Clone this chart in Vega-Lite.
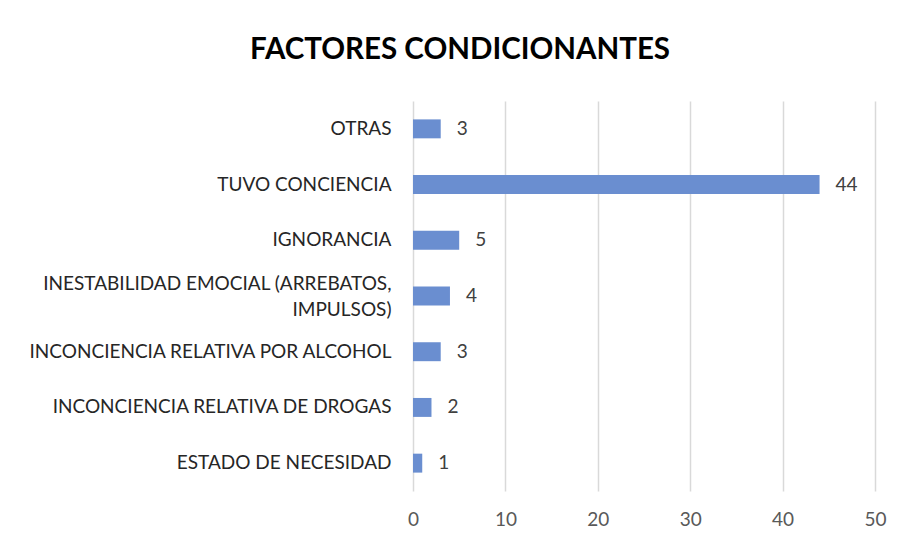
{
  "$schema": "https://vega.github.io/schema/vega-lite/v6.json",
  "autosize": {"type": "none"},
  "width": 462,
  "height": 390,
  "padding": {"left": 413, "top": 101, "right": 25, "bottom": 53},
  "background": "white",
  "title": {
    "text": "FACTORES CONDICIONANTES",
    "font": "Lato",
    "fontSize": 29.5,
    "fontWeight": "bold",
    "color": "#000000",
    "anchor": "middle",
    "dx": -184,
    "offset": 36
  },
  "data": {
    "values": [
      {"factor": "OTRAS", "valor": 3},
      {"factor": "TUVO CONCIENCIA", "valor": 44},
      {"factor": "IGNORANCIA", "valor": 5},
      {"factor": "INESTABILIDAD EMOCIAL (ARREBATOS, IMPULSOS)", "valor": 4},
      {"factor": "INCONCIENCIA RELATIVA POR ALCOHOL", "valor": 3},
      {"factor": "INCONCIENCIA RELATIVA DE DROGAS", "valor": 2},
      {"factor": "ESTADO DE NECESIDAD", "valor": 1}
    ]
  },
  "config": {
    "view": {"stroke": null},
    "font": "Lato"
  },
  "encoding": {
    "y": {
      "field": "factor",
      "type": "nominal",
      "sort": null,
      "scale": {"paddingInner": 0.66, "paddingOuter": 0.33},
      "axis": {
        "title": null,
        "domain": false,
        "ticks": false,
        "labelFont": "Lato",
        "labelFontSize": 19,
        "labelColor": "#262626",
        "labelPadding": 22,
        "labelLimit": 420,
        "labelLineHeight": 26,
        "labelExpr": "datum.label == 'INESTABILIDAD EMOCIAL (ARREBATOS, IMPULSOS)' ? ['INESTABILIDAD EMOCIAL (ARREBATOS,', 'IMPULSOS)'] : datum.label",
        "labelOffset": {
          "condition": {"test": "datum.value == 'INESTABILIDAD EMOCIAL (ARREBATOS, IMPULSOS)'", "value": -12},
          "value": 0
        }
      }
    },
    "x": {
      "field": "valor",
      "type": "quantitative",
      "scale": {"domain": [0, 50], "nice": false},
      "axis": {
        "title": null,
        "domain": false,
        "ticks": false,
        "values": [0, 10, 20, 30, 40, 50],
        "grid": true,
        "gridColor": "#d9d9d9",
        "gridWidth": 1.5,
        "labelFlush": false,
        "labelFont": "Lato",
        "labelFontSize": 19,
        "labelColor": "#595959",
        "labelPadding": 19
      }
    }
  },
  "layer": [
    {"mark": {"type": "bar", "color": "#6A8ED0"}},
    {
      "mark": {"type": "text", "align": "left", "dx": 16, "font": "Lato", "fontSize": 19, "color": "#404040"},
      "encoding": {"text": {"field": "valor", "type": "quantitative"}}
    }
  ]
}
